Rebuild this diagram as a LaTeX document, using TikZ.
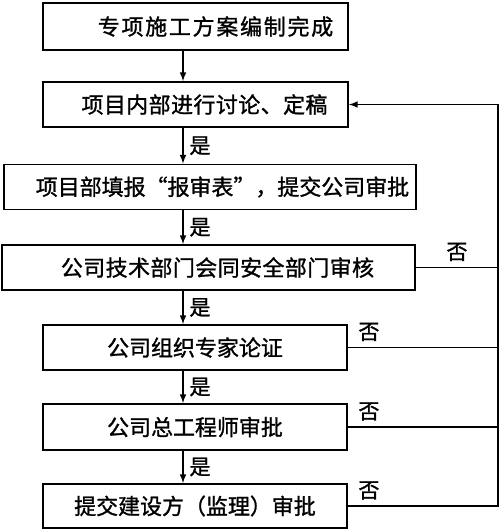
\documentclass[tikz,border=0pt]{standalone}
\usepackage{fontspec}
\newfontfamily\cjk[FakeBold=1.2]{Noto Sans CJK SC}

\begin{document}
\begin{tikzpicture}[>=latex,x=0.02cm,y=-0.02cm,
  box/.style={draw,line width=1.1pt,minimum height=0.9cm,inner sep=0pt,
    font=\cjk\fontsize{12.5}{14}\selectfont},
  lbl/.style={font=\cjk\fontsize{12}{14}\selectfont}]
  \useasboundingbox (0,0) rectangle (500,532);
  \node[box,minimum width=6.1cm,minimum height=0.94cm] (b1) at (195.5,26.5)
    {\hspace*{0.8cm}\addfontfeature{LetterSpace=8}专项施工方案编制完成};
  \node[box,minimum width=6.1cm] (b2) at (195.5,104.5)
    {\hspace*{0.36cm}\addfontfeature{LetterSpace=2}项目内部进行讨论、定稿};
  \node[box,minimum width=8.24cm] (b3) at (210,187)
    {\hspace*{0.5cm}项目部填报“报审表”，提交公司审批};
  \node[box,minimum width=8.26cm] (b4) at (208.5,267.5)
    {\hspace*{0.36cm}\addfontfeature{LetterSpace=2}公司技术部门会同安全部门审核};
  \node[box,minimum width=6.08cm] (b5) at (195,347.5) {公司组织专家论证};
  \node[box,minimum width=6.08cm,minimum height=0.92cm] (b6) at (195,427) {公司总工程师审批};
  \node[box,minimum width=6.08cm,minimum height=0.88cm] (b7) at (195,506) {提交建设方（监理）审批};
  \coordinate (c) at (183,0);
  \coordinate (r) at (498,0);
  \begin{scope}[line width=0.7pt]
  \draw[->] (b1.south -| c) -- (b2.north -| c);
  \foreach \i/\j in {2/3,3/4,4/5,5/6,6/7}{
    \draw[->] (b\i.south -| c) -- node[right,lbl]{是} (b\j.north -| c);
  }
  % return lines on the right
  \draw[->] (b7.east) -- node[above,lbl,pos=0.14]{否} (b7.east -| r)
    -- (b2.east -| r) -- (b2.east);
  \draw (b4.east) -- node[above,lbl]{否} (b4.east -| r);
  \foreach \i in {5,6}{
    \draw (b\i.east) -- node[above,lbl,pos=0.14]{否} (b\i.east -| r);
  }
  \end{scope}
\end{tikzpicture}
\end{document}
